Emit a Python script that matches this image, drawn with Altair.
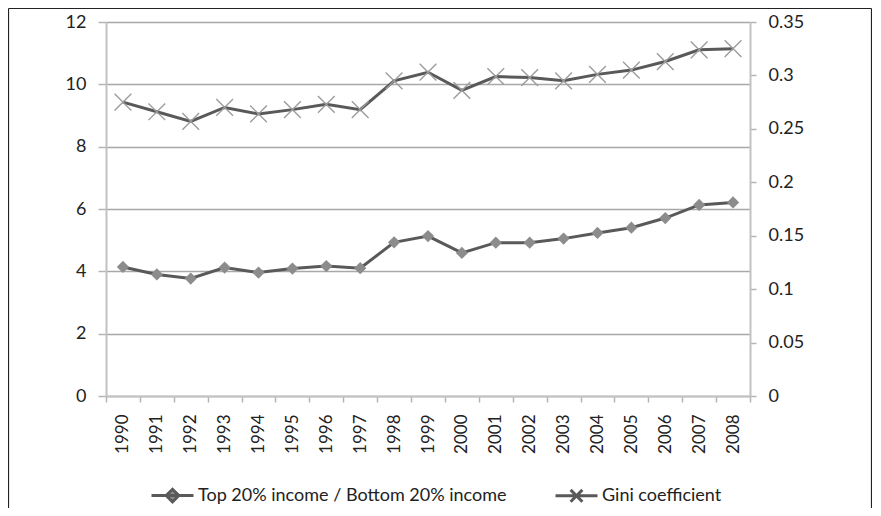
import altair as alt
import pandas as pd

years = ["1990", "1991", "1992", "1993", "1994", "1995", "1996", "1997", "1998", "1999",
         "2000", "2001", "2002", "2003", "2004", "2005", "2006", "2007", "2008"]
ratio = [4.14, 3.90, 3.77, 4.12, 3.96, 4.09, 4.17, 4.10, 4.93, 5.13,
         4.59, 4.92, 4.92, 5.05, 5.23, 5.40, 5.71, 6.13, 6.21]
gini = [0.275, 0.266, 0.257, 0.270, 0.264, 0.268, 0.273, 0.268, 0.295, 0.303,
        0.286, 0.299, 0.298, 0.295, 0.301, 0.305, 0.313, 0.324, 0.325]
series_names = ["Top 20% income / Bottom 20% income", "Gini coefficient"]
left_ticks = [0, 2, 4, 6, 8, 10, 12]
right_ticks = [0, 0.05, 0.1, 0.15, 0.2, 0.25, 0.3, 0.35]

df = pd.DataFrame({"year": years, "ratio": ratio, "gini": gini})

FONT = "Lato"
LINE = "#595959"
TXT = "#222222"
XPATH = "M-1,-1L1,1M-1,1L1,-1"
LEG_A = "M-1,0H1M0,-0.3L0.3,0L0,0.3L-0.3,0Z"
LEG_B = "M-1,0H1M-0.28,-0.28L0.28,0.28M-0.28,0.28L0.28,-0.28"

x = alt.X(
    "year:N", sort=None, bandPosition=0.5,
    scale=alt.Scale(type="band", paddingInner=0, paddingOuter=0),
    axis=alt.Axis(title=None, labelAngle=270, labelFont=FONT, labelFontSize=17,
                  labelColor=TXT, labelPadding=12, tickBand="extent", tickSize=6,
                  tickColor="#b4b4b4", tickWidth=1.5, domainColor="#c2c2c2",
                  domainWidth=2, grid=False, labelOverlap=False),
)

y_left = alt.Y(
    "ratio:Q", scale=alt.Scale(domain=[0, 12], nice=False),
    axis=alt.Axis(title=None, orient="left", values=left_ticks, labelFont=FONT,
                  labelFontSize=18, labelColor=TXT, tickSize=8, tickColor="#b4b4b4",
                  tickWidth=1.5, labelPadding=12, grid=True, gridColor="#a8a8a8",
                  gridWidth=1.5, domainColor="#c2c2c2", domainWidth=2),
)

y_right = alt.Y(
    "gini:Q", scale=alt.Scale(domain=[0, 0.35], nice=False),
    axis=alt.Axis(title=None, orient="right", values=right_ticks, format=".2~f",
                  labelFont=FONT, labelFontSize=18, labelColor=TXT, tickSize=6,
                  tickColor="#b4b4b4", tickWidth=1.5, labelPadding=12, grid=False,
                  domainColor="#c2c2c2", domainWidth=2),
)

base = alt.Chart(df)

line_a = base.mark_line(color=LINE, strokeWidth=3).encode(x=x, y=y_left)
pts_a = base.mark_point(shape="diamond", filled=True, fill="#8c8c8c", opacity=1,
                        size=150, strokeWidth=0).encode(x=x, y=y_left)

legend_df = pd.DataFrame({"series": series_names})
legend_layer = alt.Chart(legend_df).mark_point(
    filled=False, fill="#8c8c8c", stroke=LINE, strokeWidth=3, opacity=1
).encode(
    shape=alt.Shape(
        "series:N",
        scale=alt.Scale(domain=series_names, range=[LEG_A, LEG_B]),
        legend=alt.Legend(
            title=None, orient="none", legendX=44, legendY=451,
            direction="horizontal", labelFont=FONT, labelFontSize=18,
            labelColor=TXT, symbolSize=1764, symbolStrokeWidth=3,
            symbolOpacity=1, labelOffset=3, columnPadding=42, padding=0,
            labelLimit=0,
        ),
    )
).transform_filter("false")

frame_data = alt.Data(values=[{"k": 1}])
frame_top = alt.Chart(frame_data).mark_rule(color="#222", strokeWidth=1.2).encode(
    x=alt.value(-97.5), x2=alt.value(765.5), y=alt.value(-13.5))
frame_left = alt.Chart(frame_data).mark_rule(color="#222", strokeWidth=1.2).encode(
    x=alt.value(-97.5), y=alt.value(-13.5), y2=alt.value(486))
frame_right = alt.Chart(frame_data).mark_rule(color="#222", strokeWidth=1.2).encode(
    x=alt.value(765.5), y=alt.value(-13.5), y2=alt.value(486))

line_b = base.mark_line(color=LINE, strokeWidth=3).encode(x=x, y=y_right)
pts_b = base.mark_point(shape=XPATH, filled=False, stroke="#9c9c9c", opacity=1,
                        size=280, strokeWidth=1.4).encode(x=x, y=y_right)

left_group = alt.layer(line_a, pts_a, legend_layer, frame_top, frame_left, frame_right)
right_group = alt.layer(line_b, pts_b)

chart = alt.layer(left_group, right_group).resolve_scale(y="independent").properties(
    width=644, height=374,
    autosize=alt.AutoSizeParams(type="none"),
    padding={"left": 98, "top": 14, "right": 122, "bottom": 112},
).configure_view(stroke=None).configure(background="white")

chart.save("out.html", embed_options={"renderer": "svg", "actions": False})
